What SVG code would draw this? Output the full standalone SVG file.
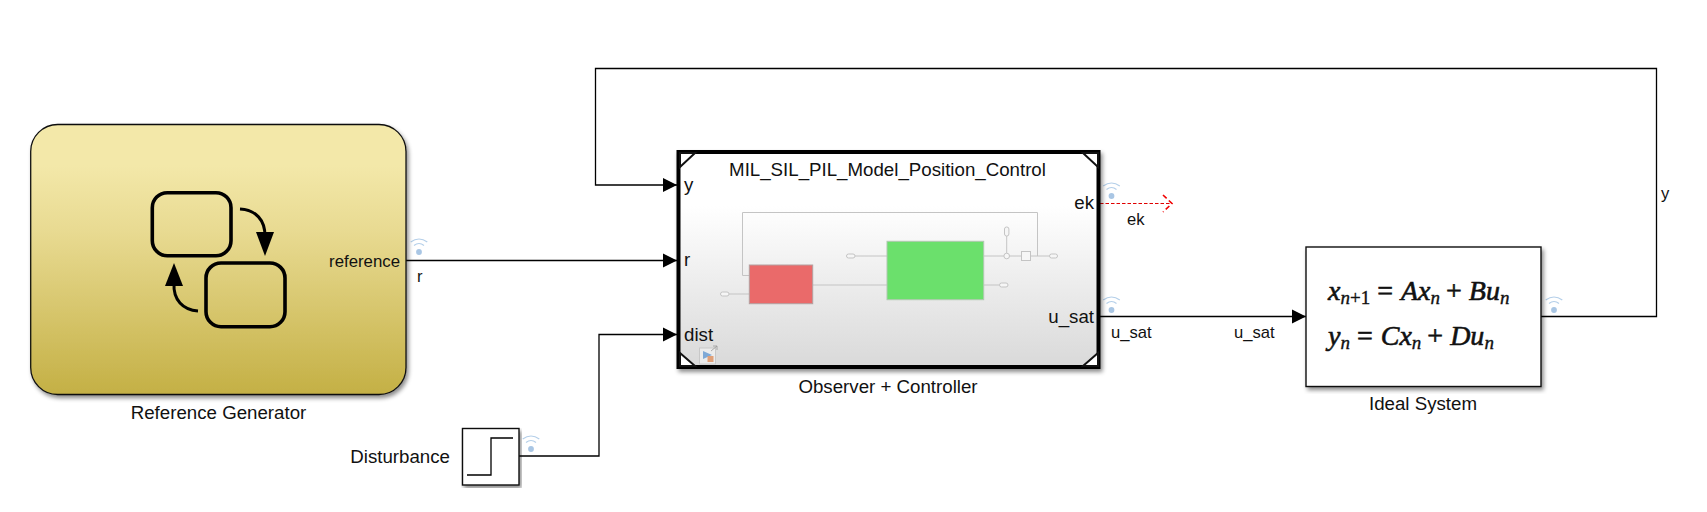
<svg xmlns="http://www.w3.org/2000/svg" width="1707" height="512" viewBox="0 0 1707 512">
<style>
text{font-family:"Liberation Sans",Arial,sans-serif;fill:#111}
.lb{font-size:18.7px}
.rf{font-size:16.8px}
.ws{font-size:16.6px}
.pt{font-size:18.7px}
.wire{fill:none;stroke:#000;stroke-width:1.3}
.in{fill:none;stroke:#c4c4c4;stroke-width:1}
.pill{fill:#f6f6f6;stroke:#c4c4c4;stroke-width:1}
.icn{fill:none;stroke:#000;stroke-width:3.6}
.eq{font-family:"Liberation Serif","DejaVu Serif",serif;font-size:28px;fill:#111;stroke:#111;stroke-width:.6}
.eq .i{font-style:italic}
.eq .s{font-size:19px;font-style:italic;stroke-width:.35}
.eq .n{font-size:19px;stroke-width:.35}
</style>
<defs>
<linearGradient id="gy" x1="0" y1="0" x2="0" y2="1"><stop offset="0.15" stop-color="#f3e8a9"/><stop offset="0.4" stop-color="#e8da91"/><stop offset="1" stop-color="#c4b045"/></linearGradient>
<linearGradient id="gw" x1="0" y1="0" x2="0" y2="1"><stop offset="0.25" stop-color="#fff"/><stop offset="1" stop-color="#d9d9d9"/></linearGradient>
<filter id="sh" x="-5%" y="-5%" width="110%" height="110%"><feGaussianBlur in="SourceAlpha" stdDeviation="2"/><feOffset dx="2" dy="3"/><feColorMatrix values="0 0 0 0 0 0 0 0 0 0 0 0 0 0 0 0 0 0 .45 0"/><feMerge><feMergeNode/><feMergeNode in="SourceGraphic"/></feMerge></filter>
<marker id="ah" markerUnits="userSpaceOnUse" markerWidth="15" markerHeight="15" refX="14" refY="7.5" orient="auto"><path d="M0 0.5L14 7.5L0 14.5Z" fill="#000"/></marker>
<g id="wifi"><circle cx="0" cy="0" r="2.9" fill="#a9c6e4"/><path d="M-5 -6.5Q0 -10.5 5 -6.5M-8.3 -10Q0 -16 8.3 -10" fill="none" stroke="#b4cfe9" stroke-width="1.2"/></g>
</defs>
<rect width="1707" height="512" fill="#fff"/>
<g id="connectors">
<path class="wire" d="M406 260.5H677" marker-end="url(#ah)"/>
<path class="wire" d="M1541 316.5H1656.5V68.5H595.5V185H677" marker-end="url(#ah)"/>
<path class="wire" d="M519 456H599V334.5H677" marker-end="url(#ah)"/>
<path class="wire" d="M1100 316.5H1306" marker-end="url(#ah)"/>
<path d="M1100 203.5H1170" fill="none" stroke="#e00000" stroke-width="1.2" stroke-dasharray="3.5 2"/>
<path d="M1163 195L1172 203.5L1163 212" fill="none" stroke="#f00000" stroke-width="1.6" stroke-dasharray="5 3"/>
<use href="#wifi" x="419" y="252"/>
<use href="#wifi" x="1111.5" y="196"/>
<use href="#wifi" x="1111.5" y="310"/>
<use href="#wifi" x="1554" y="310"/>
<use href="#wifi" x="531" y="449"/>
<text class="ws" x="417" y="282">r</text>
<text class="ws" x="1127" y="225">ek</text>
<text class="ws" x="1111" y="338">u_sat</text>
<text class="ws" x="1234" y="338">u_sat</text>
<text class="ws" x="1661" y="199">y</text>
</g>
<g id="reference-generator">
<rect x="30.7" y="124.5" width="375.3" height="270" rx="27" fill="url(#gy)" stroke="#111" stroke-width="1.3" filter="url(#sh)"/>
<rect class="icn" x="152.3" y="192.7" width="78.7" height="63" rx="15"/>
<rect class="icn" x="206" y="263" width="79" height="63.7" rx="15"/>
<path d="M240 209C256 210 265 220 265 236" fill="none" stroke="#000" stroke-width="3"/>
<path d="M265 256L256 232H274Z" fill="#000"/>
<path d="M198 311C183 310 173 300 174 283" fill="none" stroke="#000" stroke-width="3"/>
<path d="M174 263L165 286H183Z" fill="#000"/>
<text class="rf" x="400" y="267" text-anchor="end">reference</text>
<text class="lb" x="218.5" y="418.5" text-anchor="middle">Reference Generator</text>
</g>
<g id="observer-controller">
<rect x="678.5" y="152" width="420" height="215" fill="url(#gw)" stroke="#000" stroke-width="4" filter="url(#sh)"/>
<g fill="#fff" stroke="#111" stroke-width="2"><path d="M680 167L695 153H680ZM1083 153L1098 167V153ZM680 353L695 366H680ZM1083 366L1098 353V366Z"/></g>
<path class="in" d="M749 275.5H742.5V212.5H1037.5V256M729 294H749M813 285H887M855 256H887M984 256H1021M1031 256H1049M984 285H999M1006.7 253V236"/>
<rect x="749.3" y="265" width="63.4" height="38.7" fill="#ea6a6a" stroke="#b3a0a0"/>
<rect x="887" y="241.3" width="96.7" height="58.4" fill="#6be06c" stroke="#b0c8b0"/>
<circle class="pill" cx="1006.7" cy="256" r="2.8"/>
<rect class="pill" x="1021.5" y="251.5" width="9" height="9"/>
<rect class="pill" x="1004.5" y="227" width="4.4" height="9" rx="2"/>
<rect class="pill" x="1049.5" y="254" width="8" height="4" rx="2"/>
<rect class="pill" x="720.5" y="292" width="8.5" height="4" rx="2"/>
<rect class="pill" x="846.5" y="254" width="8.5" height="4" rx="2"/>
<rect class="pill" x="999.5" y="283" width="8.5" height="4" rx="2"/>
<rect x="699.5" y="348" width="16" height="16" fill="#ececec" stroke="#c8c8c8"/>
<path d="M703 351L712 355L703 359Z" fill="#7fa9d6"/>
<rect x="707.5" y="356" width="6" height="6" fill="#e0a078"/>
<path d="M711 351L717 346M713 346H717V350" fill="none" stroke="#999" stroke-width="0.8"/>
<text class="pt" x="887.5" y="176" text-anchor="middle">MIL_SIL_PIL_Model_Position_Control</text>
<text class="pt" x="684" y="191">y</text>
<text class="pt" x="684" y="266">r</text>
<text class="pt" x="684" y="341">dist</text>
<text class="pt" x="1094" y="209" text-anchor="end">ek</text>
<text class="pt" x="1094" y="322.5" text-anchor="end">u_sat</text>
<text class="lb" x="888" y="393" text-anchor="middle">Observer + Controller</text>
</g>
<g id="ideal-system">
<rect x="1306" y="247" width="235" height="139.5" fill="#fff" stroke="#111" stroke-width="1.4" filter="url(#sh)"/>
<text class="eq" x="1328" y="300"><tspan class="i">x</tspan><tspan class="s" dy="4">n</tspan><tspan class="n">+1</tspan><tspan dy="-4" dx="7">=</tspan><tspan class="i" dx="8">Ax</tspan><tspan class="s" dy="4">n</tspan><tspan dy="-4" dx="6">+</tspan><tspan class="i" dx="7">Bu</tspan><tspan class="s" dy="4">n</tspan></text>
<text class="eq" x="1328" y="345"><tspan class="i">y</tspan><tspan class="s" dy="4">n</tspan><tspan dy="-4" dx="7">=</tspan><tspan class="i" dx="8">Cx</tspan><tspan class="s" dy="4">n</tspan><tspan dy="-4" dx="6">+</tspan><tspan class="i" dx="7">Du</tspan><tspan class="s" dy="4">n</tspan></text>
<text class="lb" x="1423" y="410" text-anchor="middle">Ideal System</text>
</g>
<g id="disturbance">
<rect x="462.5" y="428.5" width="56.5" height="56.5" fill="#fff" stroke="#111" stroke-width="1.4" filter="url(#sh)"/>
<path d="M467 475H491V438H513" fill="none" stroke="#000" stroke-width="1.3"/>
<text class="lb" x="450" y="462.5" text-anchor="end">Disturbance</text>
</g>
</svg>
